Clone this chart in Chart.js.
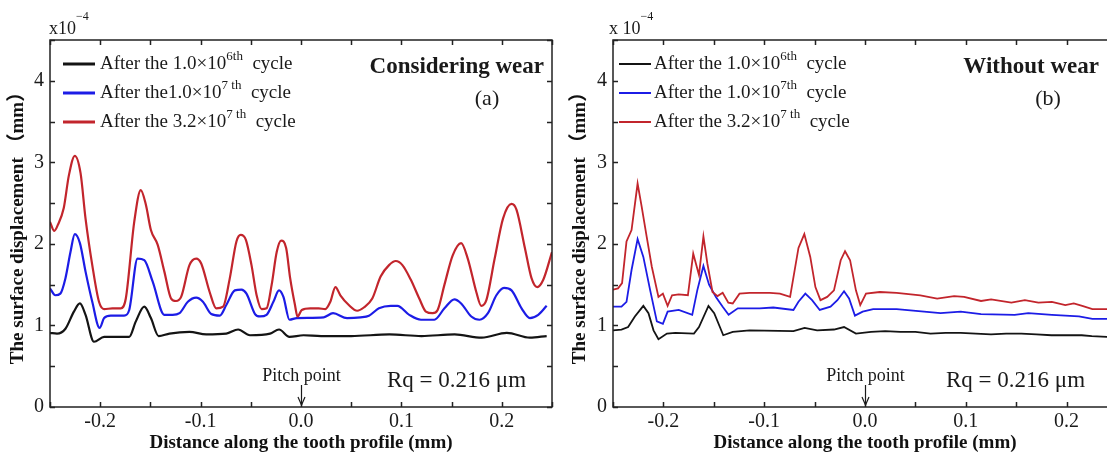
<!DOCTYPE html>
<html>
<head>
<meta charset="utf-8">
<title>Surface displacement</title>
<script src="https://cdn.jsdelivr.net/npm/chart.js@4.4.1/dist/chart.umd.min.js"></script>
<style>
    html, body { margin: 0; padding: 0; background: #fff; overflow: hidden; }
    body { width: 1107px; height: 455px; position: relative; }
    .panel { position: absolute; top: 0; height: 455px; }
    #panelA { left: 0; width: 560px; }
    #panelB { left: 560px; width: 570px; }
</style>
</head>
<body>
<div class="panel" id="panelA"><canvas id="chartA" width="560" height="455"></canvas></div>
<div class="panel" id="panelB"><canvas id="chartB" width="570" height="455"></canvas></div>
<script>
// x: distance along the tooth profile (mm), y: surface displacement (x10^-4 mm)
const xRange = [-0.25, 0.25];
const yRange = [0, 4.5];
const xStep = 0.05;
const yStep = 0.5;
const pitchX = 0.0;

const xTitle = 'Distance along the tooth profile (mm)';
const yTitle = 'The surface displacement （mm）';
const labelsA = ['After the 1.0×10^{6th}  cycle', 'After the1.0×10^{7 th}  cycle', 'After the 3.2×10^{7 th}  cycle'];
const labelsB = ['After the 1.0×10^{6th}  cycle', 'After the 1.0×10^{7th}  cycle', 'After the 3.2×10^{7 th}  cycle'];
const seriesColors = ['#141414', '#1c1ce6', '#c2252c'];

// (a) considering wear
const wear1e6 = [[-0.25,0.91],[-0.243,0.90],[-0.2346,0.96],[-0.2262,1.17],[-0.2202,1.27],[-0.2146,1.13],[-0.2062,0.80],
    [-0.1961,0.86],[-0.1862,0.86],[-0.1711,0.86],[-0.1645,1.05],[-0.1561,1.23],[-0.1495,1.09],[-0.1418,0.87],[-0.131,0.90],
    [-0.1111,0.92],[-0.0944,0.89],[-0.0744,0.90],[-0.0626,0.95],[-0.0509,0.88],[-0.0308,0.90],[-0.0219,0.95],[-0.0115,0.86],
    [0.0025,0.88],[0.02,0.87],[0.05,0.87],[0.088,0.89],[0.12,0.87],[0.153,0.89],[0.18,0.85],[0.205,0.91],[0.228,0.85],[0.2447,0.87]];
const wear1e7 = [[-0.25,1.455],[-0.2447,1.37],[-0.2397,1.39],[-0.2346,1.58],[-0.2296,1.90],[-0.2253,2.12],[-0.2202,2.01],
    [-0.2146,1.66],[-0.2079,1.29],[-0.2006,0.97],[-0.1961,1.09],[-0.1895,1.12],[-0.1762,1.12],[-0.1711,1.19],[-0.1628,1.82],
    [-0.1561,1.80],[-0.1478,1.54],[-0.1361,1.13],[-0.1278,1.13],[-0.121,1.15],[-0.1127,1.29],[-0.1044,1.34],[-0.0977,1.29],
    [-0.0894,1.14],[-0.0809,1.12],[-0.0744,1.25],[-0.0659,1.43],[-0.0593,1.44],[-0.0543,1.39],[-0.0458,1.14],[-0.0409,1.11],
    [-0.0343,1.13],[-0.0275,1.29],[-0.0219,1.43],[-0.0175,1.35],[-0.0115,1.07],[-0.0042,1.09],[0.0226,1.10],[0.0319,1.15],
    [0.0459,1.09],[0.0593,1.10],[0.0677,1.12],[0.0776,1.21],[0.0894,1.24],[0.096,1.24],[0.1078,1.13],[0.1195,1.07],
    [0.1328,1.07],[0.1429,1.21],[0.1528,1.32],[0.1595,1.27],[0.1696,1.11],[0.1778,1.07],[0.1862,1.15],[0.1946,1.37],
    [0.2022,1.46],[0.2097,1.43],[0.2197,1.21],[0.228,1.09],[0.2363,1.13],[0.2447,1.24]];
const wear32e7 = [[-0.25,2.27],[-0.2457,2.16],[-0.2423,2.23],[-0.2363,2.44],[-0.2312,2.84],[-0.2253,3.08],[-0.2196,2.87],
    [-0.2146,2.31],[-0.2079,1.74],[-0.2012,1.29],[-0.1961,1.20],[-0.1879,1.21],[-0.1795,1.21],[-0.1745,1.33],[-0.1661,2.27],
    [-0.1596,2.66],[-0.1545,2.48],[-0.1495,2.17],[-0.1428,1.99],[-0.1361,1.66],[-0.1294,1.33],[-0.1245,1.30],[-0.1194,1.35],
    [-0.1111,1.74],[-0.1044,1.82],[-0.0994,1.76],[-0.091,1.41],[-0.0844,1.21],[-0.0776,1.23],[-0.0709,1.58],[-0.0643,2.03],
    [-0.06,2.11],[-0.0549,2.05],[-0.0493,1.74],[-0.0442,1.37],[-0.0392,1.20],[-0.0343,1.21],[-0.0292,1.50],[-0.0242,1.90],
    [-0.0198,2.04],[-0.0148,1.95],[-0.0108,1.58],[-0.006,1.25],[-0.0035,1.11],[0.0008,1.19],[0.0092,1.21],[0.0176,1.21],
    [0.0242,1.20],[0.0292,1.29],[0.0343,1.47],[0.0392,1.37],[0.0476,1.25],[0.056,1.18],[0.0626,1.22],[0.071,1.33],
    [0.0793,1.60],[0.0877,1.74],[0.0944,1.79],[0.101,1.74],[0.1094,1.56],[0.1178,1.33],[0.1244,1.17],[0.1311,1.15],
    [0.1361,1.19],[0.1429,1.50],[0.1511,1.86],[0.1595,2.01],[0.1661,1.82],[0.1746,1.41],[0.1795,1.24],[0.1846,1.31],
    [0.1929,1.82],[0.2012,2.31],[0.2097,2.49],[0.2146,2.42],[0.223,1.95],[0.2296,1.58],[0.2353,1.47],[0.2413,1.56],[0.25,1.90]];

// (b) without wear
const noWear1e6 = [[-0.25,0.94],[-0.2416,0.95],[-0.235,0.98],[-0.2283,1.11],[-0.2199,1.24],[-0.2148,1.15],[-0.2098,0.94],
    [-0.2049,0.83],[-0.1965,0.90],[-0.1881,0.91],[-0.1697,0.90],[-0.1647,0.98],[-0.1553,1.24],[-0.1496,1.15],[-0.1406,0.88],
    [-0.1312,0.92],[-0.1145,0.94],[-0.071,0.93],[-0.0599,0.97],[-0.0475,0.94],[-0.0308,0.95],[-0.0208,0.98],[-0.009,0.90],
    [0.006,0.92],[0.02,0.93],[0.035,0.92],[0.05,0.92],[0.065,0.90],[0.08,0.91],[0.095,0.91],[0.11,0.90],[0.125,0.89],
    [0.14,0.90],[0.155,0.90],[0.17,0.89],[0.185,0.88],[0.2,0.88],[0.215,0.88],[0.225,0.87],[0.24,0.86],[0.25,0.87]];
const noWear1e7 = [[-0.25,1.23],[-0.2416,1.23],[-0.2366,1.29],[-0.2316,1.68],[-0.2256,2.06],[-0.2199,1.84],[-0.2131,1.43],
    [-0.2065,1.05],[-0.2005,1.02],[-0.1958,1.17],[-0.1848,1.19],[-0.1714,1.13],[-0.1664,1.43],[-0.1603,1.73],[-0.1547,1.50],
    [-0.1479,1.35],[-0.1412,1.23],[-0.1353,1.13],[-0.1262,1.21],[-0.1045,1.21],[-0.091,1.22],[-0.071,1.19],[-0.066,1.29],
    [-0.0592,1.39],[-0.0525,1.31],[-0.0449,1.19],[-0.0342,1.23],[-0.0274,1.31],[-0.0208,1.42],[-0.0158,1.33],[-0.01,1.12],
    [-0.0023,1.17],[0.0081,1.20],[0.0314,1.20],[0.0749,1.15],[0.095,1.17],[0.1151,1.14],[0.1485,1.13],[0.162,1.15],
    [0.1854,1.13],[0.2122,1.11],[0.2256,1.08],[0.2457,1.08],[0.25,1.08]];
const noWear32e7 = [[-0.25,1.44],[-0.245,1.455],[-0.241,1.52],[-0.2366,2.03],[-0.2316,2.17],[-0.2256,2.74],[-0.2216,2.46],
    [-0.2166,2.09],[-0.2115,1.72],[-0.2049,1.35],[-0.2005,1.39],[-0.1958,1.24],[-0.1914,1.37],[-0.1848,1.38],[-0.1757,1.37],
    [-0.1704,1.88],[-0.1647,1.62],[-0.1603,2.09],[-0.1564,1.76],[-0.1513,1.41],[-0.1463,1.36],[-0.1412,1.40],[-0.1356,1.28],
    [-0.1312,1.27],[-0.1245,1.39],[-0.1145,1.40],[-0.0944,1.40],[-0.0844,1.39],[-0.0743,1.35],[-0.066,1.95],[-0.0602,2.12],
    [-0.0543,1.84],[-0.0492,1.47],[-0.0442,1.31],[-0.0375,1.35],[-0.0308,1.43],[-0.0241,1.80],[-0.0198,1.91],[-0.0148,1.80],
    [-0.009,1.43],[-0.0047,1.25],[0.001,1.39],[0.0147,1.41],[0.0314,1.40],[0.0549,1.37],[0.0716,1.33],[0.0884,1.36],
    [0.0983,1.35],[0.1151,1.30],[0.1251,1.32],[0.1452,1.28],[0.1586,1.31],[0.172,1.28],[0.1854,1.29],[0.1987,1.25],
    [0.2071,1.27],[0.2155,1.24],[0.2256,1.20],[0.2457,1.20],[0.25,1.20]];

const SERIF = '"Liberation Serif", "Times New Roman", "Noto Sans CJK SC", serif';
const TEXT = '#1a1a1a';

// ラベル内の ^{...} を上付き文字として描く
function drawRich(ctx, text, x, y, size, weight, rise) {
    const re = /\^\{([^}]*)\}/g;
    const parts = [];
    let last = 0, m;
    while ((m = re.exec(text))) {
        parts.push([text.slice(last, m.index), false]);
        parts.push([m[1], true]);
        last = re.lastIndex;
    }
    parts.push([text.slice(last), false]);
    ctx.textBaseline = 'middle';
    ctx.textAlign = 'left';
    let cx = x;
    parts.forEach(([s, sup]) => {
        const fs = sup ? Math.round(size * 0.68) : size;
        ctx.font = `${weight} ${fs}px ${SERIF}`;
        ctx.fillText(s, cx, sup ? y - size * (rise || 0.4) : y);
        cx += ctx.measureText(s).width;
    });
}

// 枠線と内向きの目盛り
const framePlugin = {
    id: 'frame',
    afterDatasetsDraw(chart) {
        const { ctx, chartArea: a, scales: { x, y } } = chart;
        ctx.save();
        ctx.strokeStyle = '#222';
        ctx.lineWidth = 1.5;
        ctx.strokeRect(a.left, a.top, a.right - a.left, a.bottom - a.top);
        ctx.beginPath();
        x.ticks.forEach(t => {
            const px = Math.round(x.getPixelForValue(t.value)) + 0.5;
            ctx.moveTo(px, a.bottom); ctx.lineTo(px, a.bottom - 5);
            ctx.moveTo(px, a.top); ctx.lineTo(px, a.top + 5);
        });
        y.ticks.forEach(t => {
            const py = Math.round(y.getPixelForValue(t.value)) + 0.5;
            ctx.moveTo(a.left, py); ctx.lineTo(a.left + 5, py);
            ctx.moveTo(a.right, py); ctx.lineTo(a.right - 5, py);
        });
        ctx.stroke();
        ctx.restore();
    }
};

// 上付き文字つき凡例
const legendPlugin = {
    id: 'supLegend',
    afterDraw(chart, args, o) {
        const ctx = chart.ctx;
        ctx.save();
        chart.data.datasets.forEach((ds, i) => {
            const y = o.top + i * o.rowGap;
            ctx.strokeStyle = ds.borderColor;
            ctx.lineWidth = o.sampleWidth;
            ctx.beginPath();
            ctx.moveTo(o.left, y);
            ctx.lineTo(o.left + o.sampleLen, y);
            ctx.stroke();
            ctx.fillStyle = TEXT;
            drawRich(ctx, ds.label, o.left + o.sampleLen + o.textGap, y, o.fontSize, 'normal');
        });
        ctx.restore();
    }
};

// 注記（パネル名、ピッチ点、Rq、指数）
const notesPlugin = {
    id: 'notes',
    afterDraw(chart, args, o) {
        const { ctx, chartArea: a, scales: { x } } = chart;
        ctx.save();
        ctx.fillStyle = TEXT;
        o.items.forEach(it => {
            if (it.rich) {
                drawRich(ctx, it.text, it.x, it.y, it.size, it.weight || 'normal', it.rise);
                return;
            }
            ctx.font = `${it.weight || 'normal'} ${it.size}px ${SERIF}`;
            ctx.textAlign = it.align || 'left';
            ctx.textBaseline = 'middle';
            ctx.fillText(it.text, it.x, it.y);
        });
        // Pitch point arrow
        const px = Math.round(x.getPixelForValue(pitchX)) + 0.5;
        ctx.font = `normal 18px ${SERIF}`;
        ctx.textAlign = 'center';
        ctx.textBaseline = 'middle';
        ctx.fillText('Pitch point', px, o.pitchY);
        ctx.strokeStyle = TEXT;
        ctx.lineWidth = 1.2;
        ctx.beginPath();
        ctx.moveTo(px, o.pitchY + 9);
        ctx.lineTo(px, a.bottom - 2);
        ctx.stroke();
        ctx.beginPath();
        ctx.moveTo(px - 3.5, a.bottom - 10);
        ctx.lineTo(px, a.bottom - 2);
        ctx.lineTo(px + 3.5, a.bottom - 10);
        ctx.stroke();
        ctx.restore();
    }
};

function toPoints(pairs) {
    return pairs.map(p => ({ x: p[0], y: p[1] }));
}

function fmtX(v) {
    const k = Math.round(v * 100);
    if (k % 10 !== 0) return '';
    const s = (Math.abs(k) / 100).toFixed(1);
    return k < 0 ? '-' + s : s;
}

function fmtY(v) {
    return Math.abs(v - Math.round(v)) < 1e-6 ? String(Math.round(v)) : '';
}

function makePanel(id, series, labels, cfg) {
    return new Chart(document.getElementById(id), {
        type: 'line',
        data: {
            datasets: series.map((s, i) => ({
                label: labels[i],
                data: toPoints(s),
                borderColor: seriesColors[i],
                borderWidth: cfg.lineWidth,
                pointRadius: 0,
                fill: false,
                tension: cfg.smooth ? 0.4 : 0,
                cubicInterpolationMode: cfg.smooth ? 'monotone' : 'default',
                order: 2 - i
            }))
        },
        options: {
            responsive: false,
            animation: false,
            parsing: false,
            events: [],
            layout: { padding: { top: 40, right: cfg.padRight, left: 0, bottom: 0 } },
            plugins: {
                legend: { display: false },
                tooltip: { enabled: false },
                supLegend: cfg.legend,
                notes: cfg.notes
            },
            scales: {
                x: {
                    type: 'linear',
                    min: xRange[0],
                    max: xRange[1],
                    afterFit: s => { s.height = 48; },
                    grid: { display: false, drawTicks: false },
                    border: { display: false },
                    ticks: {
                        stepSize: xStep, autoSkip: false, maxRotation: 0, padding: 3,
                        color: TEXT, font: { family: SERIF, size: 20 }, callback: fmtX
                    },
                    title: {
                        display: true, text: xTitle, color: '#111',
                        font: { family: SERIF, size: 19, weight: 'bold' },
                        padding: { top: 0, bottom: 1 }
                    }
                },
                y: {
                    type: 'linear',
                    min: yRange[0],
                    max: yRange[1],
                    afterFit: s => { s.width = cfg.yAxisWidth; },
                    grid: { display: false, drawTicks: false },
                    border: { display: false },
                    ticks: {
                        stepSize: yStep, autoSkip: false, padding: 6,
                        color: TEXT, font: { family: SERIF, size: 20 }, callback: fmtY
                    },
                    title: {
                        display: true, text: yTitle, color: '#111',
                        font: { family: SERIF, size: 19, weight: 'bold' },
                        padding: { top: cfg.yTitlePad, bottom: 0 }
                    }
                }
            }
        },
        plugins: [framePlugin, legendPlugin, notesPlugin]
    });
}

makePanel('chartA', [wear1e6, wear1e7, wear32e7], labelsA, {
    lineWidth: 2.2, smooth: true, padRight: 8, yAxisWidth: 50, yTitlePad: 7,
    legend: { left: 63, top: 64, rowGap: 29, sampleLen: 32, sampleWidth: 3, textGap: 5, fontSize: 19 },
    notes: {
        pitchY: 376,
        items: [
            { text: 'x10^{−4}', x: 49, y: 29, size: 18, rich: true, rise: 0.65 },
            { text: 'Considering wear', x: 544, y: 67, size: 23, weight: 'bold', align: 'right' },
            { text: '(a)', x: 487, y: 99, size: 22, align: 'center' },
            { text: 'Rq = 0.216 μm', x: 387, y: 381, size: 23 }
        ]
    }
});

makePanel('chartB', [noWear1e6, noWear1e7, noWear32e7], labelsB, {
    lineWidth: 1.8, smooth: false, padRight: 13, yAxisWidth: 53, yTitlePad: 9,
    legend: { left: 59, top: 64, rowGap: 29, sampleLen: 32, sampleWidth: 2, textGap: 3, fontSize: 19 },
    notes: {
        pitchY: 376,
        items: [
            { text: 'x 10^{−4}', x: 49, y: 29, size: 18, rich: true, rise: 0.65 },
            { text: 'Without wear', x: 539, y: 67, size: 23, weight: 'bold', align: 'right' },
            { text: '(b)', x: 488, y: 99, size: 22, align: 'center' },
            { text: 'Rq = 0.216 μm', x: 386, y: 381, size: 23 }
        ]
    }
});
</script>
</body>
</html>
